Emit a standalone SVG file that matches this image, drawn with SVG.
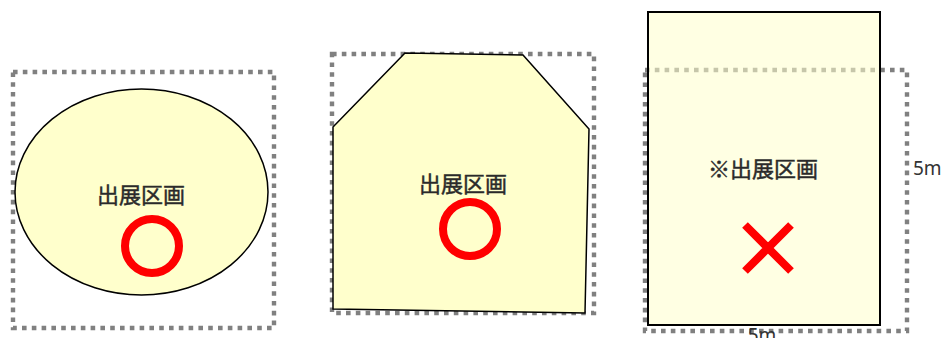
<svg xmlns="http://www.w3.org/2000/svg" width="948" height="338" viewBox="0 0 948 338">
<style>
.dot{fill:none;stroke:#808080;stroke-width:4.4;stroke-dasharray:4.6 5.2}
.area{fill:#FFFFCC;stroke:#000;stroke-width:1.5}
.lbl{font-family:"Noto Sans CJK JP","Noto Sans",sans-serif;font-size:22px;fill:#2a2a2a;stroke:#2a2a2a;stroke-width:0.45;text-anchor:middle}
.dim{font-family:"Noto Sans","DejaVu Sans",sans-serif;font-size:19px;fill:#333}
.ok{fill:none;stroke:#FF0000;stroke-width:8}
</style>
<g id="panel1">
<rect class="dot" x="13" y="72" width="261" height="256"/>
<ellipse class="area" cx="141.5" cy="192" rx="126.5" ry="103"/>
<text class="lbl" x="141" y="203">出展区画</text>
<circle class="ok" cx="152" cy="246" r="27"/>
</g>
<g id="panel2">
<rect class="dot" x="332" y="54" width="262" height="259"/>
<polygon class="area" points="333,127 405,53 523,55 589,129 585,313 333,309"/>
<text class="lbl" x="463" y="192">出展区画</text>
<circle class="ok" cx="470" cy="229" r="27"/>
</g>
<g id="panel3">
<rect class="dot" x="645" y="70" width="262" height="261"/>
<rect x="648" y="12" width="232" height="313" fill="#FFFFCC" fill-opacity="0.55" stroke="#000" stroke-width="2"/>
<text class="lbl" x="763" y="177">※出展区画</text>
<path d="M745,225 L791,271 M791,225 L745,271" stroke="#FF0000" stroke-width="8" fill="none"/>
<text class="dim" x="913" y="175">5m</text>
<text class="dim" x="762" y="342" text-anchor="middle">5m</text>
</g>
</svg>
